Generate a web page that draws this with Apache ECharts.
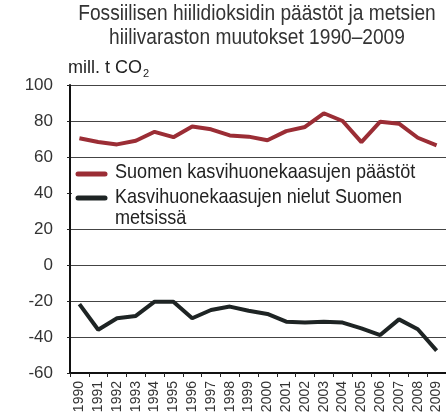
<!DOCTYPE html>
<html>
<head>
<meta charset="utf-8" />
<title>Fossiilisen hiilidioksidin päästöt</title>
<script src="https://cdn.jsdelivr.net/npm/echarts@6/dist/echarts.min.js"></script>
<style>
  html, body { margin: 0; padding: 0; background: #fff; }
  #main { width: 446px; height: 420px; }
</style>
</head>
<body>
<div id="main"></div>
<script>
// years on the x axis
var years = ['1990','1991','1992','1993','1994','1995','1996','1997','1998','1999',
             '2000','2001','2002','2003','2004','2005','2006','2007','2008','2009'];
// emissions, mill. t CO2
var emissions = [70.4, 68.3, 67, 69, 74, 71, 77, 75.4, 72, 71.3,
                 69.3, 74.4, 76.7, 84.3, 80, 68.3, 79.6, 78.5, 70.7, 66.5];
// forest sinks, mill. t CO2
var sinks = [-21.7, -36, -29.6, -28.3, -20.4, -20.4, -29.6, -25, -23.1, -25.4,
             -27.2, -31.5, -31.9, -31.5, -32, -35.2, -38.9, -30.2, -35.7, -47.6];

var titleText = 'Fossiilisen hiilidioksidin päästöt ja metsien\nhiilivaraston muutokset 1990–2009';
var seriesNames = ['Suomen kasvihuonekaasujen päästöt', 'Kasvihuonekaasujen nielut Suomen\nmetsissä'];
var colors = ['#9b2d35', '#1e2424'];

var font = 'Liberation Sans, Arial, sans-serif';
var chart = echarts.init(document.getElementById('main'));

// the original uses a condensed face, so the big texts are squeezed a bit
chart.setOption({
  animation: false,
  grid: { left: 70, right: 0, top: 85, bottom: 47, containLabel: false },
  xAxis: {
    type: 'category',
    data: years,
    boundaryGap: true,
    axisLine: { onZero: false, lineStyle: { color: '#111', width: 2 } },
    axisTick: { show: true, length: 4, lineStyle: { color: '#222' } },
    axisLabel: { rotate: 90, interval: 0, margin: 8, fontFamily: font, fontSize: 14, color: '#333' },
    splitLine: { show: false }
  },
  yAxis: {
    type: 'value',
    min: -60, max: 100, interval: 20,
    name: '{s|mill. t CO}{sub|2}',
    nameLocation: 'end',
    nameGap: 6,
    nameTextStyle: {
      align: 'left', padding: [0, 0, 0, -2],
      rich: {
        s: { fontFamily: font, fontSize: 18, color: '#222' },
        sub: { fontFamily: font, fontSize: 11, color: '#222', verticalAlign: 'bottom', padding: [10, 0, 0, 1] }
      }
    },
    axisLine: { show: true, lineStyle: { color: '#111', width: 2 } },
    axisTick: { show: true, length: 3, lineStyle: { color: '#222' } },
    axisLabel: { margin: 17, fontFamily: font, fontSize: 17, color: '#333' },
    splitLine: { lineStyle: { color: '#444', width: 1 } }
  },
  series: [
    { name: seriesNames[0], type: 'line', data: emissions, symbol: 'none',
      lineStyle: { color: colors[0], width: 4 }, z: 3 },
    { name: seriesNames[1], type: 'line', data: sinks, symbol: 'none',
      lineStyle: { color: colors[1], width: 4 }, z: 3 }
  ],
  graphic: [
    { type: 'text', x: 257, y: 2, scaleX: 0.87, z: 6,
      style: { text: titleText, x: 0, y: 0, align: 'center', verticalAlign: 'top',
               font: '22px ' + font, fill: '#333', lineHeight: 24 } },
    { type: 'rect', shape: { x: 72, y: 162, width: 374, height: 64 }, style: { fill: '#fff' }, z: 5 },
    { type: 'line', shape: { x1: 78, y1: 174, x2: 105, y2: 174 },
      style: { stroke: colors[0], lineWidth: 5, lineCap: 'round' }, z: 6 },
    { type: 'text', x: 115, y: 162, scaleX: 0.86, z: 6,
      style: { text: seriesNames[0], x: 0, y: 0, verticalAlign: 'top', font: '21px ' + font, fill: '#222' } },
    { type: 'line', shape: { x1: 78, y1: 198, x2: 105, y2: 198 },
      style: { stroke: colors[1], lineWidth: 5, lineCap: 'round' }, z: 6 },
    { type: 'text', x: 115, y: 187, scaleX: 0.86, z: 6,
      style: { text: seriesNames[1], x: 0, y: 0, verticalAlign: 'top', font: '21px ' + font, fill: '#222', lineHeight: 21 } }
  ]
});
</script>
</body>
</html>
